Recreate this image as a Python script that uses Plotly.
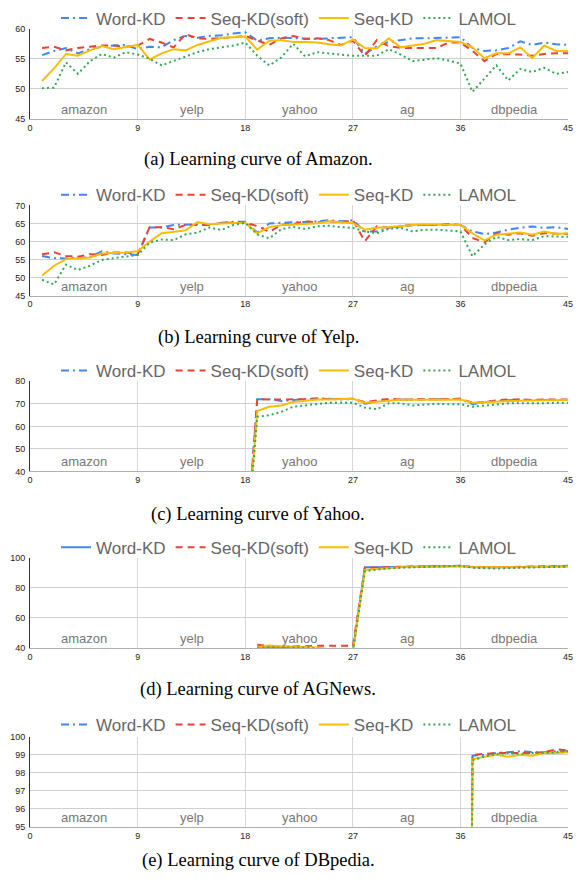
import plotly.graph_objects as go

# ---------------- data ----------------
tasks = ["amazon", "yelp", "yahoo", "ag", "dbpedia"]
task_centers = [4.5, 13.5, 22.5, 31.5, 40.5]
x_ticks = [0, 9, 18, 27, 36, 45]
series_names = ["Word-KD", "Seq-KD(soft)", "Seq-KD", "LAMOL"]
captions = ["(a) Learning curve of Amazon.", "(b) Learning curve of Yelp.",
            "(c) Learning curve of Yahoo.", "(d) Learning curve of AGNews.",
            "(e) Learning curve of DBpedia."]

# (a) Amazon, epochs 1..45
amazon_x = list(range(1, 46))
amazon_wordkd = [55.6, 56.3, 56.8, 55.9, 56.6, 57.0, 57.2, 57.3, 56.6, 57.0, 56.9, 58.1, 58.8, 58.5, 58.8,
                 58.9, 59.2, 59.4, 58.0, 58.4, 58.5, 58.4, 58.3, 58.3, 58.4, 58.5, 58.6, 55.8, 57.1, 57.8,
                 58.1, 58.4, 58.4, 58.5, 58.6, 58.6, 56.8, 56.3, 56.4, 56.8, 57.9, 57.3, 57.7, 57.4, 57.3]
amazon_seqsoft = [56.8, 57.0, 56.4, 56.8, 57.0, 57.2, 57.2, 57.0, 57.2, 58.3, 57.7, 56.9, 59.1, 58.4, 58.3,
                  58.4, 58.6, 58.8, 58.0, 57.3, 58.4, 58.8, 58.3, 58.4, 58.1, 57.3, 58.0, 55.5, 58.1, 57.1,
                  56.8, 56.8, 56.8, 56.8, 57.7, 57.7, 56.3, 54.6, 55.8, 55.8, 55.7, 55.5, 55.8, 55.9, 55.9]
amazon_seqkd = [51.3, 53.4, 55.8, 55.5, 56.4, 57.1, 56.6, 56.9, 57.3, 54.9, 55.9, 56.6, 56.4, 57.3, 57.9,
                58.5, 58.6, 58.7, 56.5, 58.0, 58.1, 57.8, 57.8, 57.7, 57.4, 57.2, 58.2, 56.8, 56.7, 58.4,
                56.9, 57.2, 57.5, 58.1, 57.9, 57.8, 56.9, 55.1, 55.9, 55.9, 56.9, 55.1, 57.2, 56.3, 56.3]
amazon_lamol = [50.1, 50.2, 54.4, 52.5, 54.6, 55.8, 55.2, 56.1, 55.7, 55.0, 53.9, 54.6, 55.4, 56.1, 56.6,
                56.9, 57.2, 57.7, 55.5, 53.9, 55.2, 57.5, 55.4, 56.1, 55.9, 55.7, 55.5, 55.5, 55.5, 56.6,
                55.7, 54.6, 54.8, 55.1, 54.7, 54.2, 49.5, 51.7, 53.9, 51.4, 53.3, 52.8, 53.5, 52.5, 52.8]

# (b) Yelp, epochs 1..45
yelp_x = list(range(1, 46))
yelp_wordkd = [56.0, 55.4, 55.3, 55.6, 55.6, 57.3, 56.7, 56.5, 56.3, 63.9, 63.9, 64.6, 64.8, 64.8, 64.6,
               65.2, 65.5, 65.5, 62.5, 65.0, 65.2, 65.3, 65.6, 65.6, 65.9, 65.6, 65.9, 62.8, 62.8, 63.8,
               64.4, 64.6, 64.6, 64.6, 64.6, 64.6, 62.8, 62.1, 62.5, 63.3, 63.8, 64.2, 63.8, 64.0, 63.5]
yelp_seqsoft = [56.5, 57.0, 56.0, 55.8, 56.5, 56.3, 57.0, 57.0, 56.5, 64.0, 64.0, 63.4, 64.6, 64.6, 64.6,
                65.2, 65.2, 65.2, 64.3, 62.7, 64.6, 64.9, 65.6, 65.3, 65.6, 65.3, 65.9, 60.1, 64.2, 63.8,
                64.2, 64.6, 64.6, 64.6, 64.9, 64.6, 61.0, 59.8, 62.3, 61.9, 62.3, 61.6, 62.3, 62.1, 62.1]
yelp_seqkd = [50.6, 53.3, 55.1, 55.4, 55.6, 56.7, 56.8, 57.0, 57.3, 60.0, 62.3, 62.8, 63.1, 65.4, 64.8,
              65.0, 65.0, 65.2, 62.3, 64.0, 64.5, 64.7, 64.8, 65.1, 65.6, 65.3, 65.1, 63.3, 63.8, 64.0,
              64.4, 64.6, 64.8, 64.8, 64.6, 64.6, 62.3, 60.3, 61.9, 62.3, 62.5, 61.9, 62.8, 62.1, 62.3]
yelp_lamol = [49.4, 48.1, 53.6, 52.1, 53.3, 54.9, 55.4, 55.8, 56.3, 59.7, 60.6, 60.4, 62.0, 62.5, 63.9,
              63.2, 64.6, 65.2, 62.0, 60.9, 63.4, 64.1, 63.5, 64.2, 64.4, 64.0, 63.8, 62.8, 62.3, 63.5,
              63.8, 62.8, 63.3, 63.3, 63.1, 62.8, 55.9, 59.2, 61.3, 60.4, 60.7, 60.4, 61.5, 61.3, 61.3]

# (c) Yahoo, epochs 18..45 (not yet trained at epoch 18)
yahoo_x = list(range(18, 46))
yahoo_wordkd = [0.0, 72.0, 72.0, 71.2, 71.7, 72.2, 72.5, 72.2, 71.9, 72.2, 70.0, 71.2, 71.7, 71.9,
                71.9, 71.9, 71.9, 71.9, 72.2, 69.8, 70.8, 71.2, 71.5, 71.9, 71.7, 71.8, 71.9, 71.7]
yahoo_seqsoft = [0.0, 72.2, 71.9, 71.9, 71.9, 72.2, 71.9, 72.2, 71.9, 72.2, 70.8, 71.5, 72.2, 71.9,
                 71.9, 71.9, 71.9, 72.2, 72.2, 70.5, 70.8, 71.5, 71.9, 71.9, 71.7, 71.9, 71.9, 71.9]
yahoo_seqkd = [0.0, 66.8, 68.7, 69.3, 70.8, 71.5, 71.9, 71.9, 71.9, 72.2, 70.5, 70.9, 71.5, 71.8,
               71.8, 71.8, 71.9, 71.9, 71.9, 70.5, 70.8, 71.1, 71.2, 71.4, 71.5, 71.5, 71.7, 71.7]
yahoo_lamol = [0.0, 64.3, 64.9, 66.4, 68.7, 69.3, 70.0, 70.5, 70.5, 70.5, 68.3, 67.6, 70.2, 70.2,
               69.3, 69.8, 70.0, 69.8, 69.8, 68.7, 69.3, 69.8, 70.2, 70.3, 70.2, 70.2, 70.5, 70.5]

# (d) AGNews, epochs 19..45
ag_x = list(range(19, 46))
ag_wordkd = [40.2, 40.0, 39.8, 40.1, 39.5, 39.0, 38.5, 38.0, 38.0, 93.5, 93.6, 93.8, 93.9, 94.0,
             94.1, 94.2, 94.3, 94.3, 93.6, 93.5, 93.4, 93.6, 93.8, 93.9, 94.0, 94.1, 94.3]
ag_seqsoft = [42.0, 41.2, 40.5, 40.8, 41.3, 41.3, 41.3, 41.3, 41.3, 93.2, 93.5, 93.7, 93.9, 94.0,
              94.1, 94.3, 94.4, 94.5, 93.8, 93.6, 93.5, 93.7, 93.9, 94.1, 94.2, 94.4, 94.5]
ag_seqkd = [40.3, 41.5, 41.0, 40.8, 40.5, 40.2, 39.0, 38.5, 38.0, 91.8, 92.5, 93.2, 93.5, 93.7,
            93.8, 94.0, 94.1, 94.3, 93.5, 93.4, 93.3, 93.5, 93.6, 93.7, 93.8, 93.9, 94.0]
ag_lamol = [40.0, 40.3, 40.1, 40.0, 40.2, 39.5, 39.0, 38.5, 38.0, 91.0, 92.0, 92.8, 93.2, 93.5,
            93.8, 94.0, 94.3, 94.6, 93.2, 92.8, 92.7, 93.0, 93.3, 93.5, 93.6, 93.8, 94.0]

# (e) DBpedia, epochs 36..45 (not yet trained at epoch 36)
db_x = list(range(36, 46))
db_wordkd = [0.0, 98.95, 99.0, 99.1, 99.15, 99.2, 99.15, 99.15, 99.2, 99.2]
db_seqsoft = [0.0, 99.0, 99.05, 99.1, 99.1, 99.1, 99.1, 99.15, 99.3, 99.25]
db_seqkd = [0.0, 98.75, 98.9, 99.0, 98.9, 99.0, 98.95, 99.1, 99.1, 99.15]
db_lamol = [0.0, 98.7, 98.9, 99.05, 99.1, 99.05, 99.1, 99.1, 99.15, 99.2]

panels = [
    (amazon_x, [amazon_wordkd, amazon_seqsoft, amazon_seqkd, amazon_lamol], [45, 60], 5),
    (yelp_x, [yelp_wordkd, yelp_seqsoft, yelp_seqkd, yelp_lamol], [45, 70], 5),
    (yahoo_x, [yahoo_wordkd, yahoo_seqsoft, yahoo_seqkd, yahoo_lamol], [40, 80], 10),
    (ag_x, [ag_wordkd, ag_seqsoft, ag_seqkd, ag_lamol], [40, 100], 20),
    (db_x, [db_wordkd, db_seqsoft, db_seqkd, db_lamol], [95, 100], 1),
]

# ---------------- style ----------------
W, H = 580, 885
colors = ["#4285F4", "#EA4335", "#FBBC04", "#34A853"]
dashes = ["8px,4px,2px,4px", "7px,5px", "solid", "2px,3px"]
plot_left, plot_right = 27.5, 573.0
plot_tops = [23.0, 202.0, 380.0, 558.5, 740.0]
plot_h = 91.3
legend_y = [12.5, 191.5, 369.5, 548.5, 728.0]
caption_y = [155.0, 336.0, 515.0, 692.0, 865.0]
caption_x = 259.0
sans = "Liberation Sans, Arial, sans-serif"
serif = "Liberation Serif, Times New Roman, serif"

fig = go.Figure()
layout = dict(
    width=W, height=H, margin=dict(l=0, r=0, t=0, b=0),
    paper_bgcolor="white", plot_bgcolor="white", showlegend=True,
    hovermode=False,
)
annotations = []

for k, (xs, ys_list, yrange, dtick) in enumerate(panels):
    n = k + 1
    xa = "x" if n == 1 else f"x{n}"
    ya = "y" if n == 1 else f"y{n}"
    leg = "legend" if n == 1 else f"legend{n}"
    for j, ys in enumerate(ys_list):
        dash = dashes[j]
        if k == 3 and j == 0:
            dash = "solid"
        fig.add_trace(go.Scatter(
            x=xs, y=ys, mode="lines", name=series_names[j],
            line=dict(color=colors[j], width=2, dash=dash),
            xaxis=xa, yaxis=ya, legend=leg,
        ))
    top = plot_tops[k]
    bot = top + plot_h
    layout["xaxis" if n == 1 else f"xaxis{n}"] = dict(
        domain=[plot_left / W, plot_right / W], anchor=ya, range=[0, 45],
        tickvals=x_ticks, ticktext=[str(t) for t in x_ticks],
        showgrid=True, gridcolor="#d6d6d6", gridwidth=1,
        showline=True, linecolor="#b0b0b0", linewidth=1, zeroline=False,
        ticks="", tickfont=dict(family=sans, size=9, color="#222222"),
        fixedrange=True,
    )
    layout["yaxis" if n == 1 else f"yaxis{n}"] = dict(
        domain=[1 - bot / H, 1 - top / H], anchor=xa, range=yrange,
        dtick=dtick, tick0=yrange[0],
        showgrid=True, gridcolor="#d0d0d0", gridwidth=1,
        showline=True, linecolor="#333333", linewidth=1, zeroline=False,
        ticks="", ticklabelstandoff=2,
        tickfont=dict(family=sans, size=9, color="#222222"),
        fixedrange=True,
    )
    layout[leg] = dict(
        orientation="h", x=0.5, xanchor="center",
        y=1 - legend_y[k] / H, yanchor="middle",
        font=dict(family=sans, size=17, color="#666666"),
        bgcolor="rgba(0,0,0,0)", itemclick=False, itemdoubleclick=False,
    )
    for t, cx in zip(tasks, task_centers):
        annotations.append(dict(
            x=cx, xref=xa, y=0, yref=f"{ya} domain", yanchor="bottom",
            text=t, showarrow=False,
            font=dict(family=sans, size=13, color="#777777"),
        ))
    annotations.append(dict(
        x=caption_x / W, xref="paper", y=1 - caption_y[k] / H, yref="paper",
        yanchor="middle", xanchor="center", text=captions[k], showarrow=False,
        font=dict(family=serif, size=18.5, color="#000000"),
    ))

layout["annotations"] = annotations
fig.update_layout(**layout)
fig.write_html(
    "out.html",
    config={"displayModeBar": False, "staticPlot": True},
    post_script="document.body.style.margin='0';document.body.style.overflow='hidden';",
)
